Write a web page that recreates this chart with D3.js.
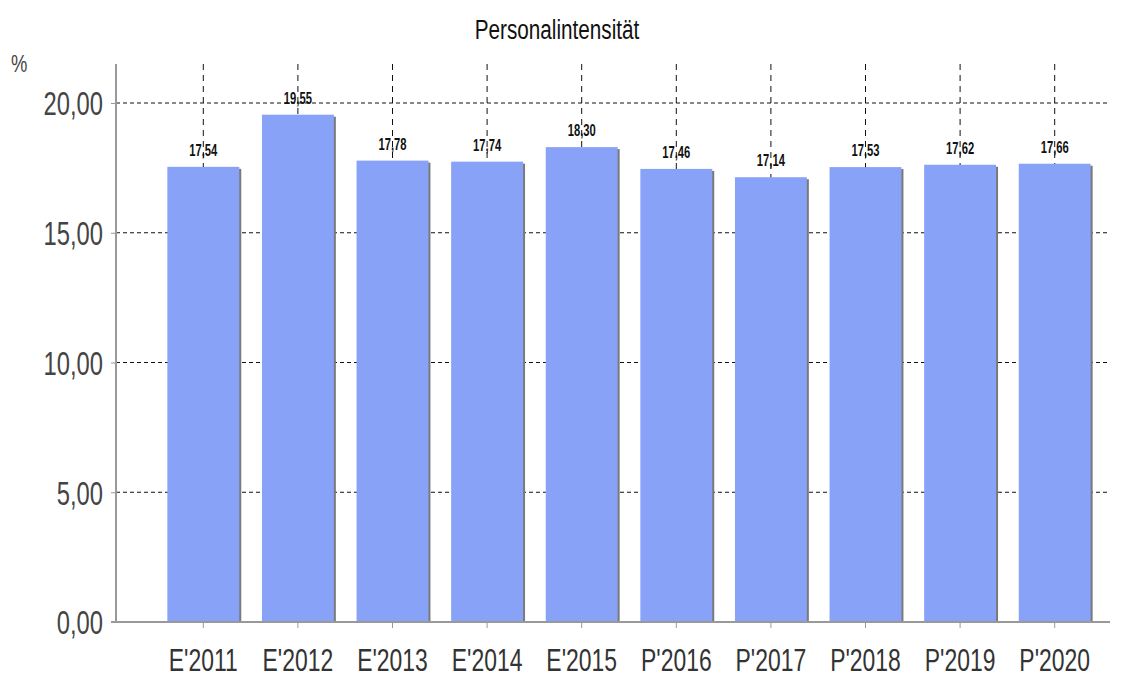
<!DOCTYPE html>
<html>
<head>
<meta charset="utf-8">
<script src="https://cdn.jsdelivr.net/npm/d3@7"></script>
<style>
  body { margin: 0; background: #fff; }
  text { font-family: "Liberation Sans", Arial, sans-serif; }
</style>
</head>
<body>
<div id="chart"></div>
<script>
// data
categories = ["E'2011", "E'2012", "E'2013", "E'2014", "E'2015", "P'2016", "P'2017", "P'2018", "P'2019", "P'2020"];
values = [17.54, 19.55, 17.78, 17.74, 18.30, 17.46, 17.14, 17.53, 17.62, 17.66];
yTicks = [0, 5, 10, 15, 20];

width = 1131;
height = 679;
plot = ({left: 116, right: 1110, top: 64, bottom: 622});

fmt = d => d3.format(".2f")(d).replace(".", ",");

// narrow font: squeeze text horizontally, keep anchor x
squeeze = function(sel, s, x) {
  sel.attr("transform", "scale(" + s + ",1)")
     .attr("x", x / s);
}

x = d3.scaleBand()
  .domain(categories)
  .range([156, 1102])
  .paddingInner(0.24)
  .paddingOuter(0.12);

y = d3.scaleLinear()
  .domain([0, 20])
  .range([plot.bottom, 103]);

const svg = d3.select("#chart").append("svg")
  .attr("width", width)
  .attr("height", height);

// title
svg.append("text")
  .attr("y", 39)
  .attr("text-anchor", "middle")
  .attr("font-size", "28px")
  .attr("fill", "#111")
  .text("Personalintensität")
  .call(squeeze, 0.74, 557);

// unit
svg.append("text")
  .attr("y", 72)
  .attr("font-size", "23px")
  .attr("fill", "#444")
  .text("%")
  .call(squeeze, 0.8, 11);

// horizontal grid
svg.selectAll(".hgrid")
  .data(yTicks.filter(d => d > 0))
  .join("line")
  .attr("x1", plot.left)
  .attr("x2", plot.right)
  .attr("y1", d => y(d))
  .attr("y2", d => y(d))
  .attr("stroke", "#111")
  .attr("stroke-width", 1)
  .attr("stroke-dasharray", "4,3");

// vertical grid
svg.selectAll(".vgrid")
  .data(categories)
  .join("line")
  .attr("x1", d => x(d) + x.bandwidth() / 2)
  .attr("x2", d => x(d) + x.bandwidth() / 2)
  .attr("y1", plot.top)
  .attr("y2", plot.bottom)
  .attr("stroke", "#111")
  .attr("stroke-width", 1)
  .attr("stroke-dasharray", "6,5");

// bar shadows
svg.selectAll(".shadow")
  .data(values)
  .join("rect")
  .attr("x", (d, i) => x(categories[i]) + 2)
  .attr("y", d => y(d) + 2)
  .attr("width", x.bandwidth())
  .attr("height", d => plot.bottom - y(d) - 2)
  .attr("fill", "#7a7a7a");

// bars
svg.selectAll(".bar")
  .data(values)
  .join("rect")
  .attr("x", (d, i) => x(categories[i]))
  .attr("y", d => y(d))
  .attr("width", x.bandwidth())
  .attr("height", d => plot.bottom - y(d))
  .attr("fill", "#88a2f8");

// value labels
svg.selectAll(".lbl")
  .data(values)
  .join("text")
  .attr("y", d => y(d) - 11)
  .attr("text-anchor", "middle")
  .attr("font-size", "17px")
  .attr("font-weight", "bold")
  .attr("fill", "#111")
  .text(d => fmt(d))
  .each(function(d, i) {
    d3.select(this).call(squeeze, 0.66, x(categories[i]) + x.bandwidth() / 2);
  });

// y axis
svg.append("line")
  .attr("x1", plot.left).attr("x2", plot.left)
  .attr("y1", plot.top).attr("y2", plot.bottom)
  .attr("stroke", "#999").attr("stroke-width", 2);

const yAxis = svg.append("g")
  .attr("transform", "translate(" + plot.left + ",0)")
  .call(d3.axisLeft(y).tickValues(yTicks).tickSize(5).tickFormat(fmt));
yAxis.select(".domain").remove();
yAxis.selectAll(".tick line").attr("stroke", "#999");
yAxis.selectAll(".tick text")
  .attr("font-size", "33px")
  .attr("fill", "#444")
  .attr("dy", "0.36em")
  .call(squeeze, 0.72, -13);

// x axis
svg.append("line")
  .attr("x1", plot.left - 5).attr("x2", plot.right)
  .attr("y1", plot.bottom).attr("y2", plot.bottom)
  .attr("stroke", "#999").attr("stroke-width", 2);

const xAxis = svg.append("g")
  .attr("transform", "translate(0," + plot.bottom + ")")
  .call(d3.axisBottom(x).tickSize(6));
xAxis.select(".domain").remove();
xAxis.selectAll(".tick line").attr("stroke", "#999");
xAxis.selectAll(".tick text")
  .attr("font-size", "31px")
  .attr("fill", "#333")
  .attr("y", 27)
  .attr("dy", "0.71em")
  .call(squeeze, 0.74, 0);
</script>
</body>
</html>
